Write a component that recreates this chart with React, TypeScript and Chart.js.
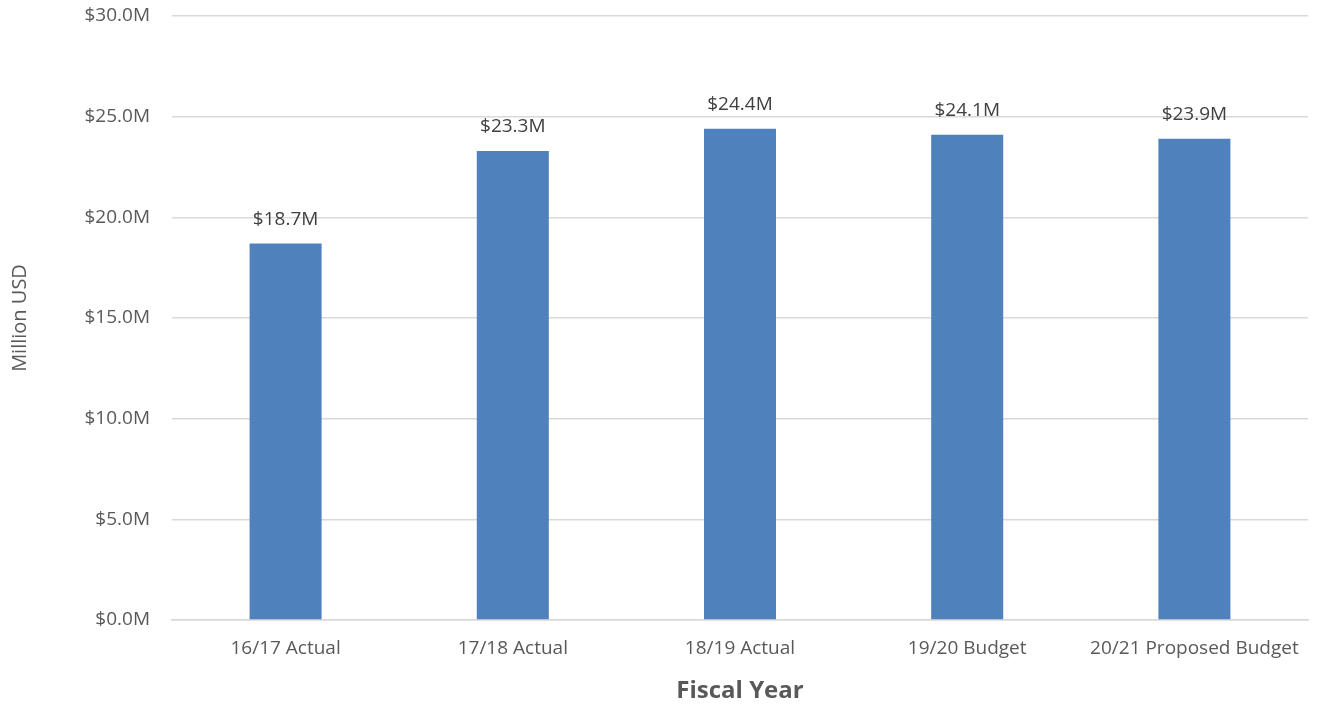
import React, { useEffect, useRef } from "react";
import { Chart, registerables } from "chart.js";

Chart.register(...registerables);

const categories = ["16/17 Actual", "17/18 Actual", "18/19 Actual", "19/20 Budget", "20/21 Proposed Budget"];
const values = [18.7, 23.3, 24.4, 24.1, 23.9];
const yTicks = [0, 5, 10, 15, 20, 25, 30];

const FONT = "'Open Sans', 'Noto Sans', sans-serif";
const TEXT = "#595959";

const labelPlugin = {
  id: "barLabels",
  afterDatasetsDraw(chart: any) {
    const ctx = chart.ctx;
    const meta = chart.getDatasetMeta(0);
    ctx.save();
    ctx.font = `19px ${FONT}`;
    ctx.fillStyle = "#404040";
    ctx.textAlign = "center";
    ctx.textBaseline = "middle";
    meta.data.forEach((bar: any, i: number) => {
      ctx.fillText(`$${values[i].toFixed(1)}M`, bar.x, bar.y - 24);
    });
    ctx.restore();
  },
};

export default function App() {
  const ref = useRef<HTMLCanvasElement>(null);
  useEffect(() => {
    document.body.style.margin = "0";
    const chart = new Chart(ref.current!, {
      type: "bar",
      data: {
        labels: categories,
        datasets: [
          {
            data: values,
            backgroundColor: "#4f81bd",
            barPercentage: 0.317,
            categoryPercentage: 1,
          },
        ],
      },
      options: {
        animation: false,
        responsive: false,
        maintainAspectRatio: false,
        layout: { padding: { top: 16, right: 10, left: 2, bottom: 0 } },
        plugins: { legend: { display: false }, tooltip: { enabled: false } },
        scales: {
          x: {
            grid: { display: false, drawTicks: false },
            border: { display: true, color: "#d9d9d9", width: 1.5 },
            ticks: { color: TEXT, font: { family: FONT, size: 19 }, padding: 17, maxRotation: 0, autoSkip: false },
            title: {
              display: true,
              text: "Fiscal Year",
              color: TEXT,
              font: { family: FONT, size: 24, weight: "bold" },
              padding: { top: 10, bottom: 0 },
            },
            afterFit(scale: any) {
              scale.height = 86;
              scale.paddingLeft = 0;
              scale.paddingRight = 0;
            },
          },
          y: {
            min: 0,
            max: 30,
            afterBuildTicks(scale: any) {
              scale.ticks = yTicks.map((v) => ({ value: v }));
            },
            grid: { color: "#d9d9d9", lineWidth: 1.5, drawTicks: false },
            border: { display: false },
            ticks: {
              color: TEXT,
              font: { family: FONT, size: 19 },
              padding: 22,
              callback: (v: any) => `$${Number(v).toFixed(1)}M`,
            },
            title: {
              display: true,
              text: "Million USD",
              color: TEXT,
              font: { family: FONT, size: 20 },
              padding: { top: 6, bottom: 0 },
            },
            afterFit(scale: any) {
              scale.width = 170;
              scale.paddingTop = 0;
              scale.paddingBottom = 0;
            },
          },
        },
      },
      plugins: [labelPlugin],
    });
    return () => chart.destroy();
  }, []);
  return (
    <div style={{ width: 1318, height: 706 }}>
      <canvas ref={ref} width={1318} height={706} style={{ width: 1318, height: 706, display: "block" }} />
    </div>
  );
}
